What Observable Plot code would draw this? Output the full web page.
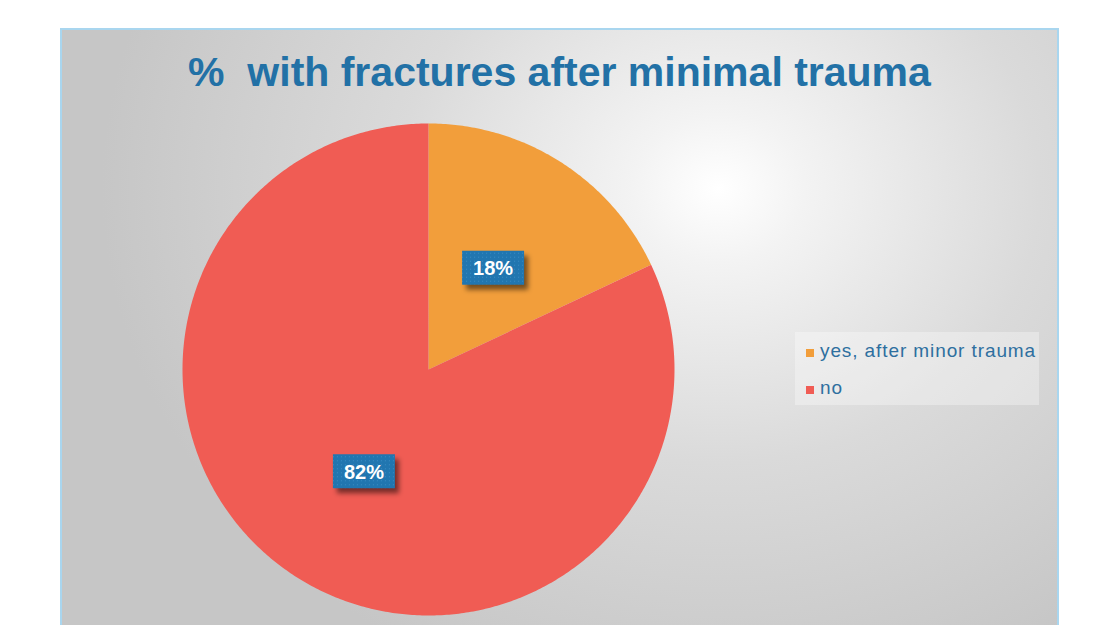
<!DOCTYPE html>
<html>
<head>
<meta charset="utf-8">
<script src="https://cdn.jsdelivr.net/npm/d3@7"></script>
<script src="https://cdn.jsdelivr.net/npm/@observablehq/plot@0.6"></script>
<style>
  html, body { margin: 0; padding: 0; background: #ffffff; width: 1093px; height: 625px; overflow: hidden; }
  body { position: relative; font-family: "Liberation Sans", Arial, sans-serif; }
  #panel {
    position: absolute; left: 60px; top: 28px; width: 995px; height: 660px;
    border: 2px solid #a9d6ef;
    background: radial-gradient(ellipse 62% 80% at 66% 24%, #ffffff 0%, #f3f3f3 14%, #dadada 52%, #c6c6c6 100%);
  }
  #title {
    position: absolute; left: 60px; width: 999px; top: 52px;
    text-align: center; font-weight: bold; font-size: 41px; line-height: 41px;
    color: #2271a6; white-space: pre;
  }
  #chart { position: absolute; left: 0; top: 0; }
  #legend {
    position: absolute; left: 795px; top: 332px; width: 244px; height: 73px;
    background: rgba(255,255,255,0.32);
  }
  .item { position: absolute; left: 0; font-size: 19px; line-height: 19px; color: #2e6f9f; white-space: nowrap; }
  .sw { position: absolute; width: 8px; height: 8px; }
</style>
</head>
<body>
<div id="panel"></div>
<div id="title"></div>
<div id="chart"></div>
<div id="legend"></div>
<script>
// ---- data ----
const titleText = "%  with fractures after minimal trauma";
const categories = ["yes, after minor trauma", "no"];
const values = [18, 82];
const labels = ["18%", "82%"];
const colors = ["#f29e3b", "#f05c54"];

// ---- build pie geometry from the values ----
const pie = d3.pie().sort(null).value(d => d.value);
const rows = categories.map((c, i) => ({category: c, value: values[i], label: labels[i]}));
const arcs = pie(rows);

const slicePoints = [];
arcs.forEach(a => {
  const cat = a.data.category;
  slicePoints.push({category: cat, x: 0, y: 0});
  const n = Math.max(2, Math.ceil((a.endAngle - a.startAngle) / 0.01));
  for (let k = 0; k <= n; ++k) {
    const t = a.startAngle + (a.endAngle - a.startAngle) * k / n;
    slicePoints.push({category: cat, x: Math.sin(t), y: Math.cos(t)});
  }
  slicePoints.push({category: cat, x: 0, y: 0});
});

const labelRadius = 0.49;
const labelPoints = arcs.map(a => {
  const m = (a.startAngle + a.endAngle) / 2;
  return {label: a.data.label, x: labelRadius * Math.sin(m), y: labelRadius * Math.cos(m)};
});

const boxSymbol = { draw(ctx) { ctx.rect(-31, -17, 62, 34); } };

const chart = Plot.plot({
  width: 1093,
  height: 625,
  margin: 0,
  style: { background: "transparent", overflow: "visible" },
  x: { domain: [-1, 1], range: [182, 674], axis: null },
  y: { domain: [-1, 1], range: [615, 123], axis: null },
  color: { domain: categories, range: colors },
  marks: [
    Plot.line(slicePoints, { x: "x", y: "y", z: "category", fill: "category", stroke: "none", curve: "linear" }),
    Plot.dot(labelPoints, { x: "x", y: "y", symbol: boxSymbol, fill: "#000", fillOpacity: 0.5, stroke: "none", dx: 4, dy: 5 }),
    Plot.dot(labelPoints, { x: "x", y: "y", symbol: boxSymbol, fill: "url(#dots)", stroke: "none" }),
    Plot.text(labelPoints, { x: "x", y: "y", text: "label", fill: "white", fontSize: 20, fontWeight: "bold", fontFamily: "Liberation Sans, Arial, sans-serif", dy: 1 })
  ]
});

const svg = d3.select(chart);
const defs = svg.insert("defs", ":first-child");
const f = defs.append("filter").attr("id", "blur").attr("x", "-40%").attr("y", "-40%").attr("width", "180%").attr("height", "180%");
f.append("feGaussianBlur").attr("stdDeviation", 2.5);
const p = defs.append("pattern").attr("id", "dots").attr("patternUnits", "userSpaceOnUse").attr("width", 4).attr("height", 4);
p.append("rect").attr("width", 4).attr("height", 4).attr("fill", "#2176b0");
p.append("rect").attr("x", 1).attr("y", 1).attr("width", 1).attr("height", 1).attr("fill", "#3a8cc4");
const dotGroups = svg.selectAll('g[aria-label="dot"]').nodes();
if (dotGroups.length) d3.select(dotGroups[0]).selectAll("path").attr("filter", "url(#blur)");

document.getElementById("chart").appendChild(chart);
document.getElementById("title").textContent = titleText;

// legend
const legend = d3.select("#legend");
const rowTops = [9, 46];
categories.forEach((c, i) => {
  legend.append("div").attr("class", "sw")
    .style("left", "11px").style("top", (rowTops[i] + 8) + "px")
    .style("background", colors[i]);
  legend.append("div").attr("class", "item")
    .style("left", "25px").style("top", rowTops[i] + "px")
    .style("letter-spacing", "0.9px")
    .text(c);
});
</script>
</body>
</html>
